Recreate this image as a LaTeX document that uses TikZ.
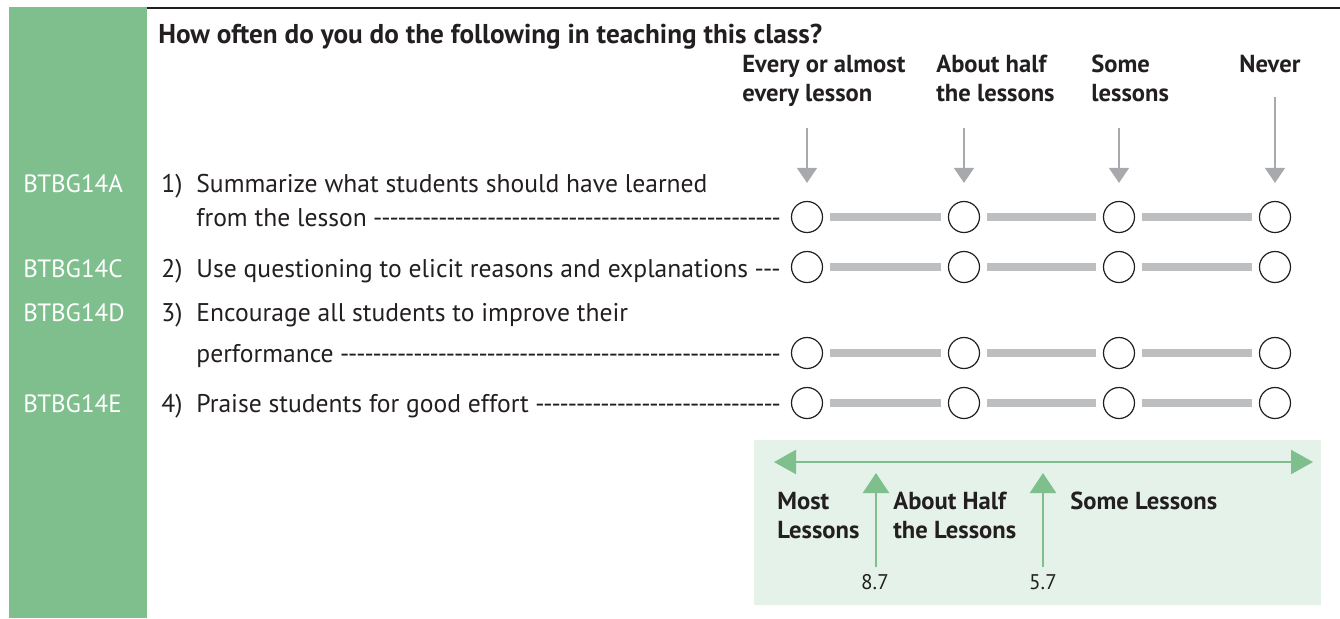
\documentclass[tikz,border=0pt]{standalone}
\usepackage{fontspec}
\setmainfont{PT Sans}
\usepackage{tikz}
\usetikzlibrary{arrows.meta, positioning}
\definecolor{sidegreen}{RGB}{127,191,142}
\definecolor{panelgreen}{RGB}{228,242,233}
\definecolor{arrowgray}{RGB}{167,169,172}
\definecolor{bargray}{RGB}{188,190,192}
\definecolor{ink}{RGB}{35,31,32}
\newcommand{\dashlead}[2]{\hbox to #1{#2\xleaders\hbox to 4pt{\hss-\hss}\hfill}}

\begin{document}
\begin{tikzpicture}[
    x=0.5pt, y=-0.5pt,
    codetext/.style = {anchor=base west, inner sep=0, text=white, font=\fontsize{12.5}{15}\selectfont},
    itemtext/.style = {anchor=base west, inner sep=0, text=ink, font=\fontsize{12.8}{15}\selectfont},
    colhead/.style = {anchor=north west, inner sep=0, align=left, text=ink, font=\bfseries\fontsize{12.3}{14.5}\selectfont},
    bandlabel/.style = {anchor=north west, inner sep=0, align=left, text=ink, font=\bfseries\fontsize{12.3}{14.5}\selectfont},
    cutvalue/.style = {inner sep=0, text=ink, font=\fontsize{10.6}{12}\selectfont},
    choice/.style = {circle, draw=ink, line width=0.6pt, minimum size=15.5pt, inner sep=0},
    gapbar/.style = {bargray, line width=4pt, shorten <=3.5pt, shorten >=3.5pt},
    downarrow/.style = {-{Triangle[length=7.5pt, width=10pt]}, arrowgray, line width=0.8pt, shorten >=9pt},
    bandarrow/.style = {{Triangle[length=11pt, width=12pt]}-{Triangle[length=11pt, width=12pt]}, sidegreen, line width=1.1pt},
    cutarrow/.style = {-{Triangle[length=10pt, width=13pt]}, sidegreen, line width=1.1pt}
]
\useasboundingbox (0,0) rectangle (1340,618);

% Side bar and top rule
\fill[sidegreen] (9,7) rectangle (147,618);
\draw[ink, line width=1pt] (147,8) -- (1340,8);

% Title and column heads
\node[itemtext, font=\bfseries\fontsize{13.6}{15}\selectfont] (title) at (158,43) {How often do you do the following in teaching this class?};
\node[colhead] (h1) at (742,55) {Every or almost\\every lesson};
\node[colhead] (h2) at (936,55) {About half\\the lessons};
\node[colhead] (h3) at (1091,55) {Some\\lessons};
\node[colhead] (h4) at (1239,55) {Never};

% Variable codes
\node[codetext] (k1) at (23,192) {BTBG14A};
\node[codetext] (k2) at (23,277) {BTBG14C};
\node[codetext] (k3) at (23,321) {BTBG14D};
\node[codetext] (k4) at (23,412) {BTBG14E};

% Questions
\node[itemtext] (n1) at (161,192) {1)};
\node[itemtext] (q1) at (196,192) {Summarize what students should have learned};
\node[itemtext] (q1b) at (196,226) {\dashlead{292pt}{from the lesson }};
\node[itemtext] (n2) at (161,277) {2)};
\node[itemtext] (q2) at (196,277) {\dashlead{292pt}{Use questioning to elicit reasons and explanations }};
\node[itemtext] (n3) at (161,321) {3)};
\node[itemtext] (q3) at (196,321) {Encourage all students to improve their};
\node[itemtext] (q3b) at (196,362) {\dashlead{292pt}{performance }};
\node[itemtext] (n4) at (161,412) {4)};
\node[itemtext] (q4) at (196,412) {\dashlead{292pt}{Praise students for good effort }};

% Response circles
\foreach \r/\y in {1/217, 2/267, 3/353, 4/403} {
  \foreach \c/\x in {1/807, 2/964, 3/1119, 4/1275}
    \node[choice] (c\r\c) at (\x,\y) {};
  \draw[gapbar] (c\r1) -- (c\r2);
  \draw[gapbar] (c\r2) -- (c\r3);
  \draw[gapbar] (c\r3) -- (c\r4);
}

% Pointers from the heads
\coordinate (t1) at (807,128);
\coordinate (t2) at (964,128);
\coordinate (t3) at (1119,128);
\coordinate (t4) at (1275,97);
\draw[downarrow] (t1) -- (c11);
\draw[downarrow] (t2) -- (c12);
\draw[downarrow] (t3) -- (c13);
\draw[downarrow] (t4) -- (c14);

% Scale panel
\fill[panelgreen] (754,440) rectangle (1321,605);
\coordinate (bl) at (774,462);
\coordinate (br) at (1313,462);
\draw[bandarrow] (bl) -- (br);

\node[cutvalue] (v1) at (875,582) {8.7};
\node[cutvalue] (v2) at (1043,582) {5.7};
\coordinate (u1) at (876,473);
\coordinate (u2) at (1043,473);
\draw[cutarrow] (u1 |- 0,567) -- (u1);
\draw[cutarrow] (u2 |- 0,567) -- (u2);

\node[bandlabel] (b1) at (777,492) {Most\\Lessons};
\node[bandlabel] (b2) at (893,492) {About Half\\the Lessons};
\node[bandlabel] (b3) at (1070,492) {Some Lessons};

\end{tikzpicture}
\end{document}
